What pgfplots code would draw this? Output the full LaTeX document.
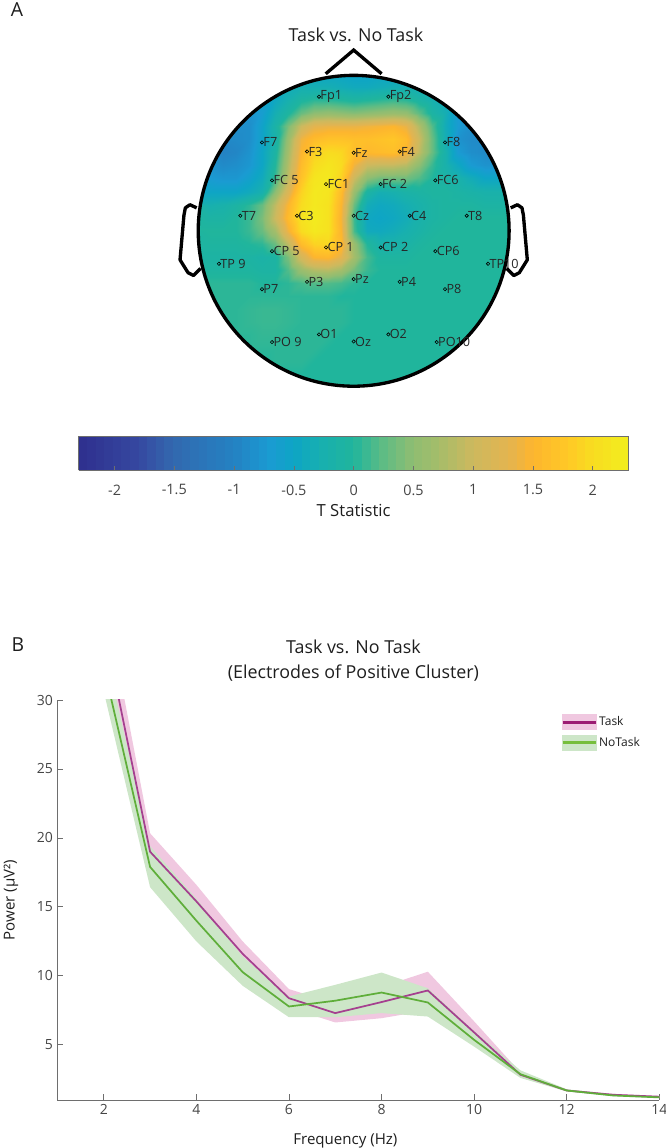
\documentclass[border=0pt]{standalone}
\usepackage{fontspec}
\usepackage{pgfplots}
\usepackage{pgfplotstable}
\pgfplotsset{compat=1.18}
\setmainfont{Open Sans}

\definecolor{axisgrey}{HTML}{6E6E6E}
\definecolor{ticktext}{HTML}{454545}
\definecolor{labeltext}{HTML}{1E1E1E}
\definecolor{taskline}{HTML}{A5408F}
\definecolor{taskdark}{HTML}{9C1C72}
\definecolor{taskband}{HTML}{F0C8E0}
\definecolor{notaskline}{HTML}{5FAE3A}
\definecolor{notaskbright}{HTML}{76BE3C}
\definecolor{notaskband}{HTML}{CDE6C8}

\pgfplotstableread{
x  m
2  35.4
3  19.0
4  15.4
5  11.6
6  8.38
7  7.3
8  8.1
9  8.94
10 5.9
11 2.83
12 1.69
13 1.38
14 1.24
}\tasktable
\pgfplotstableread{
x  m
2  32.4
3  17.9
4  14.0
5  10.27
6  7.78
7  8.2
8  8.79
9  8.07
10 5.36
11 2.87
12 1.69
13 1.33
14 1.19
}\notasktable
% bands: upper edge then lower edge back
\pgfplotstableread{
x  y
2  37.9
3  20.34
4  16.6
5  12.5
6  9.04
7  8.0
8  9.2
9  10.3
10 6.7
11 3.0
12 1.75
13 1.45
14 1.28
14 1.2
13 1.32
12 1.62
11 2.65
10 5.2
9  7.5
8  6.93
7  6.62
6  7.7
5  10.7
4  14.2
3  17.7
2  33.0
}\taskbandtable
\pgfplotstableread{
x  y
2  34.0
3  19.4
4  15.6
5  11.4
6  8.5
7  9.35
8  10.24
9  9.1
10 6.0
11 3.15
12 1.78
13 1.4
14 1.25
14 1.14
13 1.27
12 1.62
11 2.6
10 4.87
9  7.05
8  7.3
7  7.0
6  7.0
5  9.28
4  12.5
3  16.43
2  30.6
}\notaskbandtable

\begin{document}
\begin{tikzpicture}[x=0.75pt,y=0.75pt]
\useasboundingbox (0,0) rectangle (666,1148);
\node[font=\fontsize{14.5pt}{16pt}\selectfont,text=labeltext] at (17,1138) {A};
\node[font=\fontsize{14.5pt}{16pt}\selectfont,text=labeltext] at (18,503) {B};
\node[font=\fontsize{13.4pt}{15pt}\selectfont,text=labeltext] at (356,1113) {Task vs. No Task};

% topography
\begin{axis}[
    at={(147.5pt,570.15pt)},
    anchor=south west,
    scale only axis,
    width=235.5pt,
    height=235.5pt,
    xmin=-1, xmax=1,
    ymin=-1, ymax=1,
    hide axis,
    clip=false,
    point meta min=-2.3,
    point meta max=2.3,
    colormap={topo}{
        rgb255(0pt)=(46,47,142);
        rgb255(50pt)=(54,72,160);
        rgb255(80pt)=(50,105,175);
        rgb255(130pt)=(36,130,195);
        rgb255(160pt)=(26,155,210);
        rgb255(180pt)=(14,165,197);
        rgb255(205pt)=(24,176,174);
        rgb255(230pt)=(32,181,156);
        rgb255(255pt)=(94,188,132);
        rgb255(280pt)=(143,189,114);
        rgb255(300pt)=(163,189,106);
        rgb255(330pt)=(205,185,94);
        rgb255(360pt)=(227,180,80);
        rgb255(380pt)=(253,181,46);
        rgb255(410pt)=(255,201,38);
        rgb255(430pt)=(248,220,32);
        rgb255(460pt)=(242,238,30)
    },
    colorbar horizontal,
    colorbar sampled,
    colorbar style={
        samples=65,
        at={(0.5,-0.1535)},
        anchor=north,
        scale only axis,
        width=412.5pt,
        height=25.5pt,
        xtick={-2,-1.5,...,2},
        xticklabels={-2,-1.5,-1,-0.5,0,0.5,1,1.5,2},
        tick align=inside,
        xtick pos=bottom,
        ytick=\empty,
        major tick length=3pt,
        tick style={axisgrey,line width=0.5pt},
        axis line style={axisgrey,line width=0.6pt},
        xticklabel style={font=\fontsize{10.8pt}{12pt}\selectfont,text=ticktext,/pgf/number format/assume math mode=true},
        xticklabel shift=7.5pt,
        xlabel={T Statistic},
        xlabel style={font=\fontsize{12.5pt}{14pt}\selectfont,text=labeltext},
    },
]
% T values by row, top to bottom, 25 per row
\addplot[surf,shader=interp,mesh/cols=25,point meta=\thisrowno{0}]
    table[header=false,row sep=\\,x expr={mod(\coordindex,25)/12-1},y expr={1-floor(\coordindex/25)/12}] {
-0.4\\-0.4\\-0.4\\-0.4\\-0.4\\-0.4\\-0.4\\-0.4\\-0.45\\-0.45\\-0.5\\-0.5\\-0.55\\-0.55\\-0.5\\-0.5\\-0.45\\-0.4\\-0.4\\-0.4\\-0.4\\-0.4\\-0.4\\-0.4\\-0.4\\
-0.4\\-0.4\\-0.4\\-0.4\\-0.4\\-0.4\\-0.4\\-0.35\\-0.3\\-0.3\\-0.3\\-0.35\\-0.4\\-0.4\\-0.35\\-0.3\\-0.3\\-0.35\\-0.4\\-0.4\\-0.4\\-0.4\\-0.4\\-0.4\\-0.4\\
-0.5\\-0.5\\-0.5\\-0.5\\-0.55\\-0.55\\-0.45\\-0.25\\-0.05\\0.05\\0.05\\0\\-0.05\\0\\0.05\\0.1\\0.05\\-0.1\\-0.25\\-0.4\\-0.55\\-0.55\\-0.5\\-0.5\\-0.5\\
-0.8\\-0.8\\-0.8\\-0.8\\-0.8\\-0.65\\-0.3\\-0.05\\0.3\\0.5\\0.55\\0.5\\0.45\\0.5\\0.55\\0.6\\0.55\\0.25\\-0.1\\-0.3\\-0.7\\-0.8\\-0.8\\-0.8\\-0.8\\
-0.85\\-0.85\\-0.85\\-0.85\\-0.85\\-0.55\\-0.15\\0.4\\1\\1.3\\1.35\\1.35\\1.35\\1.4\\1.45\\1.5\\1.35\\0.8\\0.2\\-0.35\\-0.7\\-0.85\\-0.85\\-0.85\\-0.85\\
-0.9\\-0.9\\-0.9\\-0.9\\-0.85\\-0.55\\-0.2\\0.6\\1.4\\1.6\\1.7\\1.7\\1.65\\1.65\\1.7\\1.75\\1.6\\1\\0.3\\-0.3\\-0.8\\-0.9\\-0.9\\-0.9\\-0.9\\
-0.95\\-0.95\\-1\\-0.95\\-0.8\\-0.5\\-0.1\\0.7\\1.5\\1.9\\2\\1.95\\1.65\\1.55\\1.6\\1.65\\1.5\\0.9\\0.3\\-0.2\\-0.7\\-0.85\\-0.9\\-0.9\\-0.9\\
-0.8\\-0.8\\-0.9\\-0.85\\-0.75\\-0.5\\0\\0.8\\1.6\\2\\2.15\\2\\1.4\\1\\0.95\\0.95\\0.85\\0.5\\0.1\\-0.2\\-0.45\\-0.7\\-0.8\\-0.8\\-0.8\\
-0.7\\-0.7\\-0.75\\-0.75\\-0.6\\-0.4\\0.1\\0.9\\1.7\\2.15\\2.2\\1.9\\1\\0.5\\0.35\\0.35\\0.35\\0.2\\0\\-0.1\\-0.2\\-0.35\\-0.5\\-0.5\\-0.5\\
-0.5\\-0.5\\-0.5\\-0.5\\-0.4\\-0.25\\0.5\\1.2\\1.9\\2.2\\2.15\\1.6\\0.6\\-0.1\\-0.3\\-0.25\\-0.15\\-0.1\\-0.05\\-0.05\\-0.1\\-0.15\\-0.2\\-0.2\\-0.2\\
-0.25\\-0.25\\-0.2\\-0.1\\0.05\\0.3\\0.9\\1.5\\2\\2.2\\2.1\\1.5\\0.3\\-0.35\\-0.45\\-0.4\\-0.3\\-0.2\\-0.1\\-0.05\\-0.05\\-0.05\\-0.1\\-0.1\\-0.1\\
-0.1\\-0.1\\-0.1\\0\\0.1\\0.4\\1\\1.6\\2.1\\2.25\\2.1\\1.45\\0.1\\-0.45\\-0.5\\-0.45\\-0.35\\-0.2\\-0.1\\-0.05\\0\\0\\0\\0\\0\\
0\\0\\0\\0\\0.1\\0.3\\0.7\\1.4\\2\\2.2\\2.1\\1.5\\0.15\\-0.4\\-0.42\\-0.35\\-0.25\\-0.15\\-0.05\\0\\0\\0\\0\\0\\0\\
-0.05\\-0.05\\-0.05\\-0.05\\0\\0.05\\0.3\\0.9\\1.6\\1.9\\1.95\\1.6\\0.6\\0\\-0.2\\-0.2\\-0.15\\-0.05\\0\\0\\0\\0\\0\\0\\0\\
-0.1\\-0.1\\-0.1\\-0.1\\-0.1\\-0.15\\-0.1\\0.4\\1.1\\1.5\\1.55\\1.3\\0.7\\0.15\\-0.05\\-0.05\\-0.05\\0\\0\\0\\0\\0\\0\\0\\0\\
-0.05\\-0.05\\-0.05\\-0.05\\-0.05\\-0.1\\-0.1\\0.2\\0.6\\0.8\\0.85\\0.7\\0.35\\0.1\\0\\0\\0\\0\\0\\0\\0\\0\\0\\0\\0\\
0.05\\0.05\\0.05\\0.05\\0.05\\0\\0\\0.05\\0.15\\0.2\\0.2\\0.15\\0.05\\0\\0\\0\\0\\0\\0\\0\\0\\0\\0\\0\\0\\
0.05\\0.05\\0.05\\0.05\\0.05\\0.05\\0.05\\0.05\\0.05\\0.05\\0.05\\0\\0\\0\\0\\0\\0\\0\\0\\0\\0\\0\\0\\0\\0\\
0.05\\0.05\\0.05\\0.05\\0.08\\0.1\\0.1\\0.08\\0.05\\0.05\\0.05\\0.05\\0\\0\\0\\0\\0\\0\\0\\0\\0\\0\\0\\0\\0\\
0.05\\0.05\\0.05\\0.05\\0.08\\0.1\\0.1\\0.08\\0.05\\0.05\\0.05\\0.05\\0\\0\\0\\0\\0\\0\\0\\0\\0\\0\\0\\0\\0\\
0.05\\0.05\\0.05\\0.05\\0.05\\0.08\\0.08\\0.05\\0.05\\0.05\\0.05\\0\\0\\0\\0\\0\\0\\0\\0\\0\\0\\0\\0\\0\\0\\
0.05\\0.05\\0.05\\0.05\\0.05\\0.05\\0.05\\0.05\\0.05\\0.05\\0\\0\\0\\0\\0\\0\\0\\0\\0\\0\\0\\0\\0\\0\\0\\
0\\0\\0\\0\\0\\0\\0.05\\0.05\\0.05\\0\\0\\0\\0\\0\\0\\0\\0\\0\\0\\0\\0\\0\\0\\0\\0\\
0\\0\\0\\0\\0\\0\\0\\0\\0\\0\\0\\0\\0\\0\\0\\0\\0\\0\\0\\0\\0\\0\\0\\0\\0\\
0\\0\\0\\0\\0\\0\\0\\0\\0\\0\\0\\0\\0\\0\\0\\0\\0\\0\\0\\0\\0\\0\\0\\0\\0\\
};
% white outside the head
\fill[white,even odd rule] (axis cs:-1.005,-1.005) rectangle (axis cs:1.005,1.005) (axis cs:0,0) circle [radius=0.99];
% electrodes
\addplot[only marks,mark=o,mark size=1.25pt,black,mark options={line width=0.45pt},
    point meta=explicit symbolic,nodes near coords,
    every node near coord/.style={anchor=west,inner sep=0pt,xshift=0.9pt,text=black!85,font=\fontsize{9.5pt}{10pt}\selectfont}]
coordinates {
(-0.221,0.854)[Fp1] (0.221,0.854)[Fp2]
(-0.584,0.563)[F7] (-0.297,0.505)[F3] (0,0.497)[Fz] (0.293,0.505)[F4] (0.582,0.563)[F8]
(-0.520,0.321)[FC 5] (-0.176,0.297)[FC1] (0.172,0.297)[FC 2] (0.520,0.321)[FC6]
(-0.722,0.096)[T7] (-0.361,0.096)[C3] (0,0.096)[Cz] (0.357,0.096)[C4] (0.720,0.096)[T8]
(-0.520,-0.130)[CP 5] (-0.176,-0.106)[CP 1] (0.172,-0.106)[CP 2] (0.520,-0.130)[CP6]
(-0.858,-0.210)[TP 9] (0.856,-0.210)[TP10]
(-0.584,-0.372)[P7] (-0.297,-0.325)[P3] (0,-0.308)[Pz] (0.293,-0.325)[P4] (0.582,-0.372)[P8]
(-0.520,-0.709)[PO 9] (-0.221,-0.660)[O1] (0,-0.705)[Oz] (0.221,-0.660)[O2] (0.529,-0.709)[PO10]
};
% head outline
\draw[black,line width=2.5pt] (axis cs:0,0) circle [radius=0.99];
\addplot[black,line width=2.5pt,line join=miter] coordinates {(-0.178,1.0) (0,1.151) (0.178,1.0)};
\addplot[black,line width=2.5pt,line join=round] coordinates {(-1,0.146) (-1.043,0.166) (-1.072,0.146) (-1.081,0.100) (-1.106,-0.185) (-1.055,-0.267) (-1.02,-0.285) (-0.975,-0.240)};
\addplot[black,line width=2.5pt,line join=round] coordinates {(1,0.146) (1.043,0.166) (1.072,0.146) (1.081,0.100) (1.106,-0.185) (1.055,-0.267) (1.02,-0.285) (0.975,-0.240)};
\end{axis}

% power spectra
\begin{axis}[
    at={(43.125pt,36pt)},
    anchor=south west,
    scale only axis,
    width=451.35pt,
    height=300pt,
    xmin=1, xmax=14,
    ymin=1, ymax=30,
    axis lines=left,
    axis line style={-,axisgrey,line width=0.7pt},
    xtick={2,4,...,14},
    ytick={5,10,...,30},
    tick align=inside,
    major tick length=4.5pt,
    tick style={axisgrey,line width=0.6pt},
    tick label style={font=\fontsize{10.5pt}{12pt}\selectfont,text=ticktext,/pgf/number format/assume math mode=true},
    xlabel={Frequency (Hz)},
    ylabel={Power (µV²)},
    xlabel shift=7.5pt,
    ylabel shift=7pt,
    xlabel style={xshift=-9.75pt},
    label style={font=\fontsize{11.3pt}{13pt}\selectfont,text=labeltext},
    title={Task vs. No Task\\(Electrodes of Positive Cluster)},
    title style={align=center,font=\fontsize{13.4pt}{18.7pt}\selectfont,text=labeltext,xshift=-3.75pt,yshift=4.2pt},
    legend style={at={(0.8366,0.965)},anchor=north west,draw=none,fill=none,inner sep=0pt,
        row sep=3.6pt,font=\fontsize{9pt}{10pt}\selectfont,text=labeltext,
        nodes={inner sep=1.5pt}},
    legend cell align=left,
]
\addplot[fill=taskband,draw=none,forget plot] table[x=x,y=y] {\taskbandtable};
\addplot[fill=notaskband,draw=none,forget plot] table[x=x,y=y] {\notaskbandtable};
\addplot[taskline,line width=1.3pt,
    legend image code/.code={
        \fill[taskband] (0pt,-5.25pt) rectangle (24.75pt,5.25pt);
        \draw[taskdark,line width=2.2pt] (0pt,0pt) -- (24.75pt,0pt);
    }] table[x=x,y=m] {\tasktable};
\addlegendentry{Task}
\addplot[notaskline,line width=1.3pt,
    legend image code/.code={
        \fill[notaskband] (0pt,-5.25pt) rectangle (24.75pt,5.25pt);
        \draw[notaskbright,line width=2.2pt] (0pt,0pt) -- (24.75pt,0pt);
    }] table[x=x,y=m] {\notasktable};
\addlegendentry{NoTask}
\end{axis}
\end{tikzpicture}
\end{document}
